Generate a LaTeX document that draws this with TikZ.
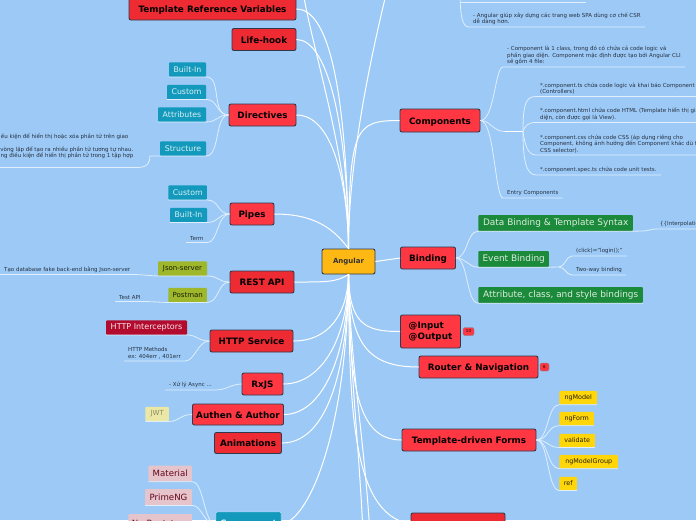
\documentclass[tikz,border=0pt]{standalone}
\usepackage{fontspec}
\setmainfont{DejaVu Sans}
\definecolor{rsky}{HTML}{9CC9F6}
\definecolor{rroot}{HTML}{FDB813}
\definecolor{rred}{HTML}{FF3743}
\definecolor{rdark}{HTML}{EE2A33}
\definecolor{rline}{HTML}{2F3B4C}
\definecolor{rteal}{HTML}{1299BC}
\definecolor{rolive}{HTML}{9FB82B}
\definecolor{rcrim}{HTML}{B30B2E}
\definecolor{rgreen}{HTML}{1B8A3A}
\definecolor{rgold}{HTML}{FFD60A}
\definecolor{rsand}{HTML}{EBE8A6}
\definecolor{rpink}{HTML}{E6C4CC}
\tikzset{
  rootbox/.style={draw=rline,line width=.9pt,rounded corners=2pt,fill=rroot,text=black!80,font=\fontsize{7}{8}\selectfont\bfseries,inner sep=0pt},
  topicbox/.style={draw=rline,line width=.9pt,rounded corners=2pt,fill=rred,text=black,font=\fontsize{8.8}{11}\selectfont\bfseries,inner sep=0pt,minimum height=22pt,text height=8pt,text depth=1pt},
  darkbox/.style={topicbox,fill=rdark},
  tagbox/.style={rounded corners=1pt,inner sep=0pt,minimum height=14.5pt,font=\fontsize{7.8}{9}\selectfont},
  tealbox/.style={tagbox,fill=rteal,text=white!85!rteal},
  olivebox/.style={tagbox,fill=rolive,text=black!85!rolive,font=\fontsize{7}{9}\selectfont},
  crimbox/.style={tagbox,fill=rcrim,text=white!90!rcrim,font=\fontsize{8}{9}\selectfont},
  greenbox/.style={tagbox,fill=rgreen,text=white!85!rgreen,minimum height=16pt,font=\fontsize{8.95}{10}\selectfont},
  goldbox/.style={tagbox,fill=rgold,text=black!85!rgold,minimum height=13.5pt,font=\fontsize{6.4}{8}\selectfont},
  sandbox/.style={tagbox,fill=rsand,text=black!40!rsand,font=\fontsize{7}{9}\selectfont},
  pinkbox/.style={tagbox,fill=rpink,text=rcrim!55!black,minimum height=16pt,font=\fontsize{8.6}{10}\selectfont},
  badgebox/.style={draw=rline!60,rounded corners=1.5pt,fill=rred,inner sep=0pt,minimum height=8pt,font=\fontsize{4}{5}\selectfont},
  note/.style={align=left,inner xsep=4pt,inner ysep=2pt,anchor=south west,text=rline!85!black,font=\fontsize{5.5}{6.4}\selectfont},
  branch/.style={white,line width=1pt},
  twig/.style={white!70!rsky,line width=.8pt},
}
\begin{document}
\begin{tikzpicture}[x=1pt,y=-1pt]
  \useasboundingbox (0,0) rectangle (696,520);
  \clip (0,0) rectangle (696,520);
  \fill[rsky] (0,0) rectangle (696,520);

  % root and main topics
  \node[rootbox,minimum width=53pt,minimum height=25pt] (root) at (348.5,261.5) {Angular};
  \node[darkbox,minimum width=167pt] (trv) at (212.5,9) {Template Reference Variables};
  \node[darkbox,minimum width=64pt] (life) at (264,39.5) {Life-hook};
  \node[topicbox,minimum width=67pt] (dirs) at (262.5,115) {Directives};
  \node[topicbox,minimum width=44pt] (pipes) at (252,214) {Pipes};
  \node[darkbox,minimum width=64pt] (rest) at (262,282) {REST API};
  \node[darkbox,minimum width=83pt] (http) at (251.5,341) {HTTP Service};
  \node[topicbox,minimum width=41pt] (rxjs) at (262.5,384) {RxJS};
  \node[topicbox,minimum width=91pt,minimum height=21pt] (auth) at (238,414.5) {Authen \& Author};
  \node[darkbox,minimum width=67pt,minimum height=21pt] (anim) at (248,443) {Animations};
  \node[tealbox,draw=white!70!rteal,minimum width=65pt,minimum height=25pt,font=\fontsize{8.8}{11}\selectfont\bfseries] (comps) at (248.5,524.5) {Component};
  \node[topicbox,minimum width=80pt,minimum height=23pt] (cmp) at (440,120.5) {Components};
  \node[topicbox,minimum width=55pt] (bind) at (428,258) {Binding};
  \node[draw=rline,line width=.9pt,rounded corners=2pt,fill=rred,text=black,font=\fontsize{8.8}{11}\selectfont\bfseries,inner sep=0pt,minimum width=60pt,minimum height=33pt,align=left] (inout) at (430.5,331.5) {@Input\\@Output};
  \node[topicbox,minimum width=119pt] (router) at (478.5,367) {Router \& Navigation};
  \node[topicbox,minimum width=134pt] (forms) at (469,440) {Template-driven Forms};
  \node[darkbox,minimum width=94pt] (extra) at (458,524) {};
  \node[badgebox,minimum width=11pt] (badgea) at (468.5,331.5) {10};
  \node[badgebox,minimum width=9pt] (badgeb) at (544.5,367) {6};

  % left side leaves
  \node[tealbox,minimum width=37pt] (dbuilt) at (187.5,69.5) {Built-In};
  \node[tealbox,minimum width=39pt] (dcustom) at (186.5,92) {Custom};
  \node[tealbox,minimum width=48pt] (dattr) at (182,114.5) {Attributes};
  \node[tealbox,minimum width=46pt] (dstruct) at (183,148.5) {Structure};
  \node[note,align=right,anchor=south east] (dnote) at (137.5,167.5) {ều kiện để hiển thị hoặc xóa phần tử trên giao\hspace*{5pt}\\[6.5pt]vòng lặp để tạo ra nhiều phần tử tương tự nhau.\\ng điều kiện để hiển thị phần tử trong 1 tập hợp\\[1pt]~};
  \node[tealbox,minimum width=38.5pt] (pcustom) at (187.7,192.5) {Custom};
  \node[tealbox,minimum width=37pt] (pbuilt) at (188.5,215) {Built-In};
  \node[note] (pterm) at (186,242.5) {Term};
  \node[olivebox,minimum width=49pt] (rjson) at (182.5,268.5) {Json-server};
  \node[olivebox,minimum width=38.5pt] (rpost) at (187.7,295) {Postman};
  \node[note] (rfake) at (0,274.5) {Tạo database fake back-end bằng Json-server};
  \node[note] (rtest) at (115,301.5) {Test API};
  \node[crimbox,minimum width=81pt] (hinter) at (146.5,327.5) {HTTP Interceptors};
  \node[note] (hmeth) at (124,361) {HTTP Methods\\ex: 404err , 401err};
  \node[note] (xasync) at (165,390) {- Xử lý Async ...};
  \node[sandbox,minimum width=23.5pt] (jwt) at (157.2,414) {JWT};
  \node[pinkbox,minimum width=43.5pt] (lmat) at (170.2,473.5) {Material};
  \node[pinkbox,minimum width=47pt] (lprime) at (168.5,497.2) {PrimeNG};
  \node[pinkbox,minimum width=63.5pt,minimum height=21pt] (lboot) at (160.2,524.5) {Ng Bootstrap};

  % right side leaves
  \node[note] (ttop) at (460,2.5) {};
  \node[note] (tspa) at (469,27) {- Angular giúp xây dựng các trang web SPA dùng cơ chế CSR\\dễ dàng hơn.};
  \node[note] (cintro) at (503,67) {- Component là 1 class, trong đó có chứa cả code logic và\\phần giao diện. Component mặc định được tạo bởi Angular CLI\\sẽ gồm 4 file:};
  \coordinate (chub) at (505,131.5);
  \coordinate (chubb) at (523,131.5);
  \node[note] (cts) at (536,96.5) {*.component.ts chứa code logic và khai báo Component\\(Controllers)};
  \node[note] (chtml) at (536,122.5) {*.component.html chứa code HTML (Template hiển thị giao\\diện, còn được gọi là View).};
  \node[note] (ccss) at (536,155) {*.component.css chứa code CSS (áp dụng riêng cho\\Component, không ảnh hưởng đến Component khác dù trùng\\CSS selector).};
  \node[note] (cspec) at (536,175) {*.component.spec.ts chứa code unit tests.};
  \node[note] (centry) at (503,198) {Entry Components};
  \node[greenbox,minimum width=154.5pt] (bdata) at (555.7,223) {Data Binding \& Template Syntax};
  \node[greenbox,minimum width=70.5pt] (bevent) at (513.7,259) {Event Binding};
  \node[greenbox,minimum width=164.5pt] (battr) at (560.7,295) {Attribute, class, and style bindings};
  \node[note] (binter) at (656,229) {\{\{Interpolation\}\}};
  \node[note] (bclick) at (572,256) {(click)="login();"};
  \node[note] (btwo) at (572,275) {Two-way binding};
  \coordinate (ehub) at (559,267);
  \node[goldbox,minimum width=37.5pt] (fmodel) at (578.2,397.7) {ngModel};
  \node[goldbox,minimum width=34.5pt] (fform) at (576.7,418.7) {ngForm};
  \node[goldbox,minimum width=35.5pt] (fvalid) at (577.2,440.5) {validate};
  \node[goldbox,minimum width=58.5pt] (fgroup) at (588.7,461.7) {ngModelGroup};
  \node[goldbox,minimum width=17.5pt] (fref) at (568.2,483.5) {ref};
  \coordinate (topl) at (300,-30);
  \coordinate (topr) at (392,-30);
  \coordinate (downa) at (364,560);
  \coordinate (downb) at (371,560);

  % main branches
  \draw[branch] (root.north) .. controls +(0,-100) and +(5,60) .. (topl);
  \draw[branch] (trv.east) .. controls +(30,0) and +(-2,-170) .. (root.north);
  \draw[branch] (life.east) .. controls +(30,0) and +(-1,-130) .. (root.north);
  \draw[branch] (dirs.east) .. controls +(35,0) and +(-1,-70) .. (root.north);
  \draw[branch] (pipes.east) .. controls +(40,0) and +(-15,-20) .. (root.north);
  \draw[branch] (rest.east) .. controls +(30,0) and +(-12,8) .. (root.south);
  \draw[branch] (http.east) .. controls +(35,0) and +(-1,40) .. (root.south);
  \draw[branch] (rxjs.east) .. controls +(35,0) and +(-1,70) .. (root.south);
  \draw[branch] (auth.east) .. controls +(35,0) and +(-1,90) .. (root.south);
  \draw[branch] (anim.east) .. controls +(40,0) and +(-1,110) .. (root.south);
  \draw[branch] (comps.east) .. controls +(30,-5) and +(-1,150) .. (root.south);
  \draw[branch] (root.north) .. controls +(0,-100) and +(-15,60) .. (topr);
  \draw[branch] (cmp.west) .. controls +(-45,0) and +(1,-120) .. (root.north);
  \draw[branch] (root.east) -- (bind.west);
  \draw[branch] (inout.west) .. controls +(-35,0) and +(1,50) .. (root.south);
  \draw[branch] (router.west) .. controls +(-50,0) and +(1,70) .. (root.south);
  \draw[branch] (forms.west) .. controls +(-45,0) and +(1,110) .. (root.south);
  \draw[branch] (extra.west) .. controls +(-60,-10) and +(1,130) .. (root.south);
  \draw[branch] (root.south) .. controls +(1,100) and +(-3,-100) .. (downa);
  \draw[branch] (root.south) .. controls +(2,100) and +(-3,-100) .. (downb);

  % twigs of the left side
  \draw[twig] (dirs.west) .. controls +(-18,0) and +(16,0) .. (dbuilt.south east) -- (dbuilt.south west);
  \draw[twig] (dirs.west) .. controls +(-12,0) and +(12,0) .. (dcustom.south east) -- (dcustom.south west);
  \draw[twig] (dirs.west) .. controls +(-12,0) and +(12,0) .. (dattr.south east) -- (dattr.south west);
  \draw[twig] (dirs.west) .. controls +(-14,0) and +(14,0) .. (dstruct.south east) -- (dstruct.south west);
  \draw[twig] (dstruct.south west) -- (150,156) .. controls (150,162) and (148,167.5) .. (dnote.south east) -- (dnote.south west);
  \draw[twig] (pipes.west) .. controls +(-12,0) and +(12,0) .. (pcustom.south east) -- (pcustom.south west);
  \draw[twig] (pipes.west) .. controls +(-12,0) and +(12,0) .. (pbuilt.south east) -- (pbuilt.south west);
  \draw[twig] (pipes.west) .. controls +(-12,0) and +(10,0) .. (pterm.south east) -- (pterm.south west);
  \draw[twig] (rest.west) .. controls +(-12,0) and +(12,0) .. (rjson.south east) -- (rjson.south west) .. controls +(-5,0) and +(5,0) .. (rfake.south east) -- (rfake.south west);
  \draw[twig] (rest.west) .. controls +(-12,0) and +(12,0) .. (rpost.south east) -- (rpost.south west) .. controls +(-4,0) and +(4,0) .. (rtest.south east) -- (rtest.south west);
  \draw[twig] (http.west) .. controls +(-12,0) and +(10,0) .. (hinter.south east) -- (hinter.south west);
  \draw[twig] (http.west) .. controls +(-12,0) and +(10,0) .. (hmeth.south east) -- (hmeth.south west);
  \draw[twig] (rxjs.west) .. controls +(-10,0) and +(10,0) .. (xasync.south east) -- (xasync.south west);
  \draw[twig] (auth.west) .. controls +(-12,0) and +(10,0) .. (jwt.south east) -- (jwt.south west);
  \draw[twig] (comps.west) .. controls +(-12,0) and +(12,0) .. (lmat.south east) -- (lmat.south west);
  \draw[twig] (comps.west) .. controls +(-12,0) and +(10,0) .. (lprime.south east) -- (lprime.south west);

  % twigs of the right side
  \draw[twig] (ttop.south west) -- (586,2.5);
  \draw[twig] (460,-10) .. controls (460,15) and (462,27) .. (tspa.south west) -- (tspa.south east);
  \draw[twig] (cmp.east) .. controls +(14,0) and +(-8,0) .. (cintro.south west) -- (cintro.south east);
  \draw[twig] (cmp.east) .. controls +(10,0) and +(-12,0) .. (chub);
  \draw[white,line width=1.4pt] (chub) -- (chubb);
  \draw[twig] (cmp.east) .. controls +(14,0) and +(-8,0) .. (centry.south west) -- (centry.south east);
  \draw[twig] (chubb) .. controls +(0,-28) and +(-10,0) .. (cts.south west) -- (696,96.5);
  \draw[twig] (chubb) .. controls +(2,-6) and +(-8,0) .. (chtml.south west) -- (696,122.5);
  \draw[twig] (chubb) .. controls +(2,14) and +(-8,0) .. (ccss.south west) -- (696,155);
  \draw[twig] (chubb) .. controls +(0,28) and +(-10,0) .. (cspec.south west) -- (cspec.south east);
  \draw[twig] (bind.east) .. controls +(12,0) and +(-12,0) .. (bdata.south west) -- (bdata.south east);
  \draw[twig] (bind.east) .. controls +(10,0) and +(-10,0) .. (bevent.south west) -- (bevent.south east) -- (ehub);
  \draw[twig] (bind.east) .. controls +(12,0) and +(-12,0) .. (battr.south west) -- (battr.south east);
  \draw[twig] (bdata.south east) -- (643,231) .. controls +(6,0) and +(-6,0) .. (binter.south west) -- (696,229);
  \draw[twig] (ehub) .. controls +(6,0) and +(-6,0) .. (bclick.south west) -- (bclick.south east);
  \draw[twig] (ehub) .. controls +(6,0) and +(-6,0) .. (btwo.south west) -- (btwo.south east);
  \draw[twig] (forms.east) .. controls +(12,0) and +(-12,0) .. (fmodel.south west) -- (fmodel.south east);
  \draw[twig] (forms.east) .. controls +(12,0) and +(-12,0) .. (fform.south west) -- (fform.south east);
  \draw[twig] (forms.east) .. controls +(12,0) and +(-12,0) .. (fvalid.south west) -- (fvalid.south east);
  \draw[twig] (forms.east) .. controls +(12,0) and +(-12,0) .. (fgroup.south west) -- (fgroup.south east);
  \draw[twig] (forms.east) .. controls +(12,0) and +(-12,0) .. (fref.south west) -- (fref.south east);
\end{tikzpicture}
\end{document}
